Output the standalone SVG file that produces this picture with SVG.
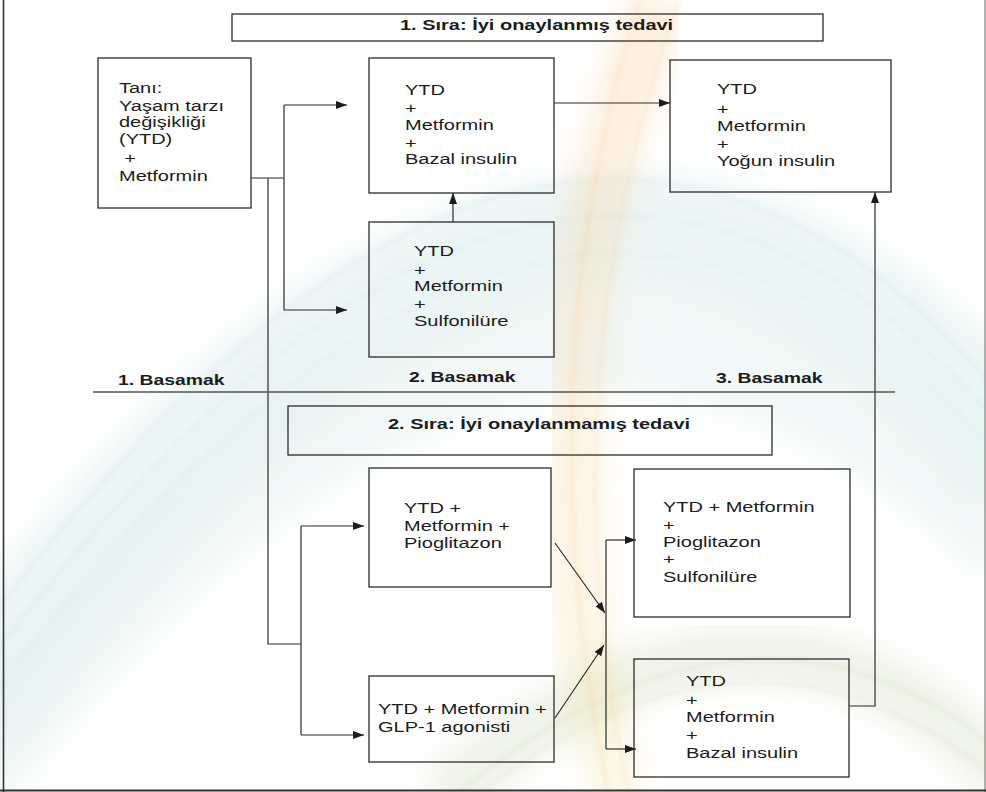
<svg xmlns="http://www.w3.org/2000/svg" width="986" height="792" viewBox="0 0 986 792">
<style>
.box{fill:none;stroke:#2b2b2b;stroke-width:1.3}
.t{font-family:"Liberation Sans",Arial,sans-serif;font-size:15.5px;fill:#1c1c1c}
.b{font-family:"Liberation Sans",Arial,sans-serif;font-size:15.5px;font-weight:bold;fill:#1c1c1c}
.c{fill:none;stroke:#2b2b2b;stroke-width:1.2}
.a{marker-end:url(#ah)}
</style>
<defs>
<marker id="ah" markerUnits="userSpaceOnUse" markerWidth="12" markerHeight="10" refX="11" refY="5" orient="auto">
<path d="M0,1 L11,5 L0,9 Z" fill="#1c1c1c"/>
</marker>
<filter id="blur" x="-20%" y="-20%" width="140%" height="140%"><feGaussianBlur stdDeviation="14"/></filter>
<filter id="blur2" x="-20%" y="-20%" width="140%" height="140%"><feGaussianBlur stdDeviation="2.5"/></filter>
<linearGradient id="og" x1="0" y1="0" x2="0" y2="1">
<stop offset="0" stop-color="#f6c48a"/>
<stop offset="0.5" stop-color="#f8d4a4"/>
<stop offset="1" stop-color="#f0e4a8"/>
</linearGradient>
</defs>
<rect width="986" height="792" fill="#ffffff"/>
<g id="background">
<path d="M-40 720 Q560 -100 1020 460" fill="none" stroke="#d6ebea" stroke-width="120" opacity="0.45" filter="url(#blur)"/>
<path d="M-60 800 Q520 40 1020 540" fill="none" stroke="#e2f0ee" stroke-width="110" opacity="0.45" filter="url(#blur)"/>
<path d="M-40 660 Q560 -160 1020 420" fill="none" stroke="#cfe5e4" stroke-width="3" opacity="0.45" filter="url(#blur2)"/>
<path d="M-40 700 Q560 -120 1020 450" fill="none" stroke="#cfe5e4" stroke-width="3" opacity="0.4" filter="url(#blur2)"/>
<path d="M-40 740 Q560 -80 1020 480" fill="none" stroke="#d3e8e6" stroke-width="3" opacity="0.35" filter="url(#blur2)"/>
<path d="M440 800 Q760 520 1010 780" fill="none" stroke="#e3e9d6" stroke-width="60" opacity="0.55" filter="url(#blur)"/>
<path d="M450 800 Q760 540 1010 760" fill="none" stroke="#d8e0c6" stroke-width="3" opacity="0.45" filter="url(#blur2)"/>
<path d="M470 800 Q760 570 1010 790" fill="none" stroke="#d8e0c6" stroke-width="3" opacity="0.4" filter="url(#blur2)"/>
<path d="M660 0 C560 250 540 520 620 800" fill="none" stroke="url(#og)" stroke-width="60" opacity="0.28" filter="url(#blur)"/>
<path d="M640 0 C560 250 550 520 610 800" fill="none" stroke="#f4c48c" stroke-width="3" opacity="0.3" filter="url(#blur2)"/>
<path d="M680 0 C590 250 570 520 630 800" fill="none" stroke="#f4c48c" stroke-width="3" opacity="0.25" filter="url(#blur2)"/>
</g>
<g id="frame">
<line x1="3.5" y1="0" x2="3.5" y2="792" stroke="#333" stroke-width="1.6"/>
<line x1="985" y1="0" x2="985" y2="792" stroke="#999" stroke-width="1.5"/>
<line x1="0" y1="790.5" x2="986" y2="790.5" stroke="#333" stroke-width="2.2"/>
</g>
<g id="connectors">
<path class="c" d="M251 178 H284"/>
<path class="c" d="M284 105 V310"/>
<path class="c a" d="M284 105 H347"/>
<path class="c a" d="M284 310 H347"/>
<path class="c a" d="M554 103 H670"/>
<path class="c a" d="M453 222 V193"/>
<path class="c" d="M268 178 V644 H301"/>
<path class="c" d="M301 526 V735"/>
<path class="c a" d="M301 526 H364"/>
<path class="c a" d="M301 735 H364"/>
<path class="c a" d="M555 543 L605 613"/>
<path class="c a" d="M555 718 L604 645"/>
<path class="c" d="M606 540 V749"/>
<path class="c a" d="M606 540 H636"/>
<path class="c a" d="M606 749 H636"/>
<path class="c a" d="M849 706 H875 V192"/>
<path d="M93 392 H895" fill="none" stroke="#555" stroke-width="1.4"/>
</g>
<g id="header1">
<rect class="box" x="232" y="14" width="591" height="27"/>
<text class="b" transform="translate(400,0) scale(1.29,1)"><tspan x="0" y="30.5">1. Sıra: İyi onaylanmış tedavi</tspan></text>
</g>
<g id="tani">
<rect class="box" x="98" y="58" width="153" height="150"/>
<text class="t" transform="translate(119,0) scale(1.29,1)"><tspan x="0" y="93">Tanı:</tspan><tspan x="0" y="111">Yaşam tarzı</tspan><tspan x="0" y="127.5">değişikliği</tspan><tspan x="0" y="144">(YTD)</tspan><tspan x="4" y="163">+</tspan><tspan x="0" y="181">Metformin</tspan></text>
</g>
<g id="bazal1">
<rect class="box" x="369" y="58" width="185" height="135"/>
<text class="t" transform="translate(405,0) scale(1.29,1)"><tspan x="0" y="95">YTD</tspan><tspan x="0" y="113.5">+</tspan><tspan x="0" y="130">Metformin</tspan><tspan x="0" y="148">+</tspan><tspan x="0" y="164">Bazal insulin</tspan></text>
</g>
<g id="yogun">
<rect class="box" x="670" y="60" width="221" height="132"/>
<text class="t" transform="translate(717,0) scale(1.29,1)"><tspan x="0" y="94.5">YTD</tspan><tspan x="0" y="114">+</tspan><tspan x="0" y="131">Metformin</tspan><tspan x="0" y="149">+</tspan><tspan x="0" y="166">Yoğun insulin</tspan></text>
</g>
<g id="sulfo1">
<rect class="box" x="369" y="222" width="185" height="135"/>
<text class="t" transform="translate(414,0) scale(1.29,1)"><tspan x="0" y="256">YTD</tspan><tspan x="0" y="275">+</tspan><tspan x="0" y="291">Metformin</tspan><tspan x="0" y="309.5">+</tspan><tspan x="0" y="326">Sulfonilüre</tspan></text>
</g>
<g id="labels">
<text class="b" transform="translate(118,0) scale(1.25,1)"><tspan x="0" y="385">1. Basamak</tspan></text>
<text class="b" transform="translate(409,0) scale(1.25,1)"><tspan x="0" y="382">2. Basamak</tspan></text>
<text class="b" transform="translate(716,0) scale(1.25,1)"><tspan x="0" y="383">3. Basamak</tspan></text>
</g>
<g id="header2">
<rect class="box" x="288" y="406" width="484" height="49"/>
<text class="b" transform="translate(388,0) scale(1.29,1)"><tspan x="0" y="429.5">2. Sıra: İyi onaylanmamış tedavi</tspan></text>
</g>
<g id="pio">
<rect class="box" x="369" y="468" width="182" height="119"/>
<text class="t" transform="translate(404,0) scale(1.29,1)"><tspan x="0" y="513.5">YTD +</tspan><tspan x="0" y="531.5">Metformin +</tspan><tspan x="0" y="548.5">Pioglitazon</tspan></text>
</g>
<g id="glp">
<rect class="box" x="369" y="676" width="185" height="86"/>
<text class="t" transform="translate(378,0) scale(1.29,1)"><tspan x="0" y="714">YTD + Metformin +</tspan><tspan x="0" y="732">GLP-1 agonisti</tspan></text>
</g>
<g id="pio-sulfo">
<rect class="box" x="634" y="469" width="216" height="148"/>
<text class="t" transform="translate(663,0) scale(1.29,1)"><tspan x="0" y="512">YTD + Metformin</tspan><tspan x="0" y="530">+</tspan><tspan x="0" y="547">Pioglitazon</tspan><tspan x="0" y="564.5">+</tspan><tspan x="0" y="582">Sulfonilüre</tspan></text>
</g>
<g id="bazal2">
<rect class="box" x="634" y="659" width="215" height="118"/>
<text class="t" transform="translate(686,0) scale(1.29,1)"><tspan x="0" y="686.5">YTD</tspan><tspan x="0" y="705.5">+</tspan><tspan x="0" y="722">Metformin</tspan><tspan x="0" y="740">+</tspan><tspan x="0" y="758">Bazal insulin</tspan></text>
</g>
</svg>
